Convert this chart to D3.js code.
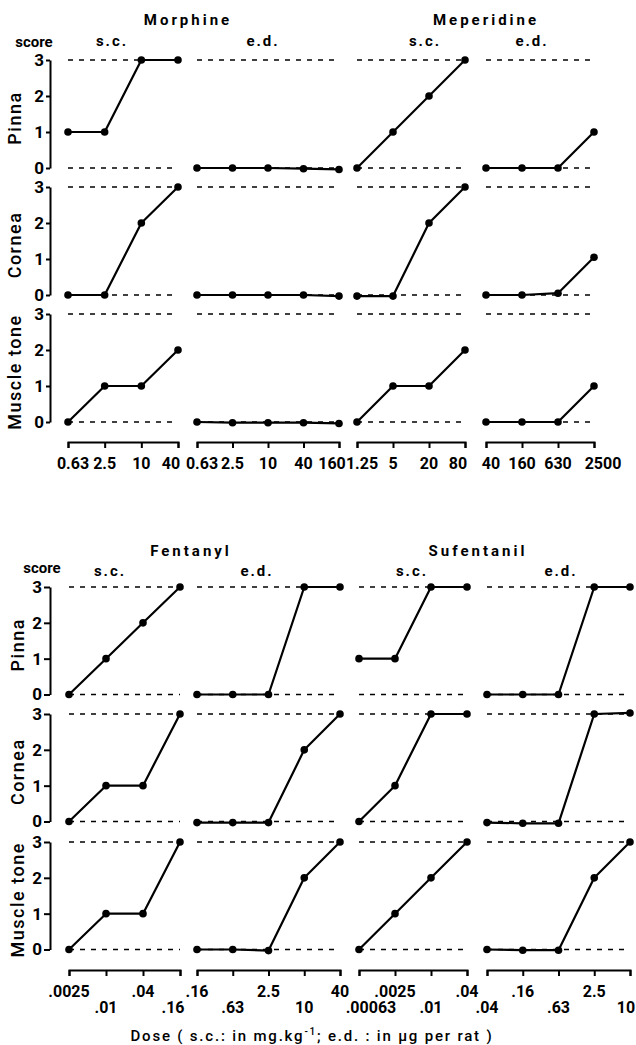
<!DOCTYPE html>
<html>
<head>
<meta charset="utf-8">
<script src="https://cdn.jsdelivr.net/npm/d3@7"></script>
<style>
body { margin: 0; background: #fff; }
svg { font-family: Roboto, "Liberation Sans", sans-serif; font-weight: bold; }
</style>
</head>
<body>
<div id="wrapper"></div>
<script>
// 1. Data
const rowNames = ["Pinna", "Cornea", "Muscle tone"]
const scoreTicks = [0, 1, 2, 3]

const morphineScDoses = ["0.63", "2.5", "10", "40"]
const morphineEdDoses = ["0.63", "2.5", "10", "40", "160"]
const meperidineScDoses = ["1.25", "5", "20", "80"]
const meperidineEdDoses = ["40", "160", "630", "2500"]
const fentanylScDoses = [".0025", ".01", ".04", ".16"]
const fentanylEdDoses = [".16", ".63", "2.5", "10", "40"]
const sufentanilScDoses = [".00063", ".0025", ".01", ".04"]
const sufentanilEdDoses = [".04", ".16", ".63", "2.5", "10"]

// scores per row: pinna, cornea, muscle tone
const morphineScScores = [[1, 1, 3, 3], [0, 0, 2, 3], [0, 1, 1, 2]]
const morphineEdScores = [[0, 0, 0, -0.02, -0.04], [0, 0, 0, 0, -0.03], [0, -0.02, -0.02, -0.02, -0.04]]
const meperidineScScores = [[0, 1, 2, 3], [-0.03, -0.03, 2, 3], [0, 1, 1, 2]]
const meperidineEdScores = [[0, 0, 0, 1], [0, 0, 0.05, 1.05], [0, 0, 0, 1]]
const fentanylScScores = [[0, 1, 2, 3], [0, 1, 1, 3], [0, 1, 1, 3]]
const fentanylEdScores = [[0, 0, 0, 3, 3], [-0.03, -0.03, -0.03, 2, 3], [0, 0, -0.03, 2, 3]]
const sufentanilScScores = [[1, 1, 3, 3], [0, 1, 3, 3], [0, 1, 2, 3]]
const sufentanilEdScores = [[0, 0, 0, 3, 3], [-0.03, -0.05, -0.05, 3, 3.03], [0, -0.02, -0.02, 2, 3]]

const topPanels = [
    {drug: "Morphine", route: "s.c.", doses: morphineScDoses, scores: morphineScScores},
    {drug: "Morphine", route: "e.d.", doses: morphineEdDoses, scores: morphineEdScores},
    {drug: "Meperidine", route: "s.c.", doses: meperidineScDoses, scores: meperidineScScores},
    {drug: "Meperidine", route: "e.d.", doses: meperidineEdDoses, scores: meperidineEdScores},
]
const bottomPanels = [
    {drug: "Fentanyl", route: "s.c.", doses: fentanylScDoses, scores: fentanylScScores},
    {drug: "Fentanyl", route: "e.d.", doses: fentanylEdDoses, scores: fentanylEdScores},
    {drug: "Sufentanil", route: "s.c.", doses: sufentanilScDoses, scores: sufentanilScScores},
    {drug: "Sufentanil", route: "e.d.", doses: sufentanilEdDoses, scores: sufentanilEdScores},
]

// 2. Dimensions
const dimensions = { width: 636, height: 1045 }

const layouts = [
    {
        panels: topPanels,
        rowTops: [60, 187, 314], rowHeight: 108, axisY: 442,
        panelX: [[68, 178], [197, 339], [357, 465], [486, 594]],
        titleX: [188, 486], titleY: 25,
        routeX: [112, 263, 425, 532], routeY: 46,
        scoreX: 34, scoreY: 47, rowLabelX: 21, tickSize: 4,
        labelY: [469, 469], stagger: [0, 0, 0, 0],
        nudge: (p, i, n) => i === 0 ? 5 : (i === n - 1 ? (p === 3 ? 9 : -7) : 0)
    },
    {
        panels: bottomPanels,
        rowTops: [587, 714, 842], rowHeight: 107.5, axisY: 970,
        panelX: [[69, 180], [197, 340], [359, 467], [487, 630]],
        titleX: [191, 478], titleY: 556,
        routeX: [110, 257, 412, 561], routeY: 576,
        scoreX: 42, scoreY: 573, rowLabelX: 24, tickSize: 6,
        labelY: [997, 1013], stagger: [0, 0, 1, 1],
        nudge: (p, i, n) => (p === 0 && i === n - 1) ? -7 : ((p === 2 && i === 0) ? 12 : (p === 3 && i === n - 1 ? -4 : 0))
    }
]

// 3. Draw canvas
const wrapper = d3.select("#wrapper")
    .append("svg")
    .attr("width", dimensions.width)
    .attr("height", dimensions.height)

layouts.forEach(drawBlock)

function drawBlock(layout) {
    const block = wrapper.append("g")

    // titles
    d3.groups(layout.panels, d => d.drug).forEach(([drug], i) => {
        block.append("text")
            .attr("x", layout.titleX[i])
            .attr("y", layout.titleY)
            .attr("text-anchor", "middle")
            .style("font-size", "15px")
            .style("letter-spacing", "3px")
            .text(drug)
    })
    block.selectAll(".route")
        .data(layout.panels)
        .join("text")
        .attr("class", "route")
        .attr("x", (d, i) => layout.routeX[i])
        .attr("y", layout.routeY)
        .attr("text-anchor", "middle")
        .style("font-size", "15px")
        .style("letter-spacing", "2px")
        .text(d => d.route)

    block.append("text")
        .attr("x", layout.scoreX)
        .attr("y", layout.scoreY)
        .attr("text-anchor", "middle")
        .style("font-size", "15px")
        .text("score")

    // rows
    rowNames.forEach((rowName, r) => {
        const yScale = d3.scaleLinear()
            .domain([0, 3])
            .range([layout.rowTops[r] + layout.rowHeight, layout.rowTops[r]])

        const yAxis = block.append("g")
            .attr("transform", "translate(50,0)")
            .call(d3.axisLeft(yScale).tickValues(scoreTicks).tickFormat(d3.format("d"))
                .tickSize(layout.tickSize).tickSizeOuter(0).tickPadding(2))
        yAxis.select(".domain").attr("stroke-width", 2)
        yAxis.selectAll(".tick line").attr("stroke-width", 2)
        yAxis.selectAll(".tick text")
            .attr("fill", "#000")
            .style("font-size", "17px")
            .style("font-family", "Roboto, sans-serif")
            .style("font-weight", "bold")

        block.append("text")
            .attr("transform", `translate(${layout.rowLabelX},${layout.rowTops[r] + layout.rowHeight / 2 + 4}) rotate(-90)`)
            .attr("text-anchor", "middle")
            .style("font-size", "18px")
            .style("font-weight", "500")
            .style("letter-spacing", "1.5px")
            .text(rowName)

        layout.panels.forEach((panel, p) => {
            const xScale = d3.scalePoint()
                .domain(panel.doses)
                .range(layout.panelX[p])

            // dashed reference lines at score 0 and 3
            block.selectAll(null)
                .data([0, 3])
                .join("line")
                .attr("x1", xScale.range()[0])
                .attr("x2", xScale.range()[1])
                .attr("y1", d => yScale(d))
                .attr("y2", d => yScale(d))
                .attr("stroke", "#000")
                .attr("stroke-width", 1.6)
                .attr("stroke-dasharray", "5,6")

            const points = panel.doses.map((dose, i) => ({dose, score: panel.scores[r][i]}))

            const lineGenerator = d3.line()
                .x(d => xScale(d.dose))
                .y(d => yScale(d.score))

            block.append("path")
                .datum(points)
                .attr("d", lineGenerator)
                .attr("fill", "none")
                .attr("stroke", "#000")
                .attr("stroke-width", 2.2)
                .attr("stroke-linejoin", "round")

            block.selectAll(null)
                .data(points)
                .join("circle")
                .attr("cx", d => xScale(d.dose))
                .attr("cy", d => yScale(d.score))
                .attr("r", 3.8)
                .attr("fill", "#000")
        })
    })

    // dose axes
    layout.panels.forEach((panel, p) => {
        const xScale = d3.scalePoint()
            .domain(panel.doses)
            .range(layout.panelX[p])

        const xAxis = block.append("g")
            .attr("transform", `translate(0,${layout.axisY})`)
            .call(d3.axisBottom(xScale).tickSize(6).tickSizeOuter(6).tickFormat(""))
        xAxis.select(".domain").attr("stroke-width", 2)
        xAxis.selectAll(".tick line").attr("stroke-width", 2)

        block.selectAll(null)
            .data(panel.doses)
            .join("text")
            .attr("x", (d, i) => xScale(d) + layout.nudge(p, i, panel.doses.length))
            .attr("y", (d, i) => layout.labelY[(i + layout.stagger[p]) % 2])
            .attr("text-anchor", "middle")
            .style("font-size", "16px")
            .text(d => d)
    })
}

// x axis label
const doseLabel = wrapper.append("text")
    .attr("x", 312)
    .attr("y", 1041)
    .attr("text-anchor", "middle")
    .style("font-size", "15px")
    .style("font-weight", "500")
    .style("letter-spacing", "1.8px")
doseLabel.append("tspan").text("Dose ( s.c.: in  mg.kg")
doseLabel.append("tspan").attr("dy", -6).style("font-size", "10px").text("-1")
doseLabel.append("tspan").attr("dy", 6).text("; e.d. : in µg per rat )")
</script>
</body>
</html>
